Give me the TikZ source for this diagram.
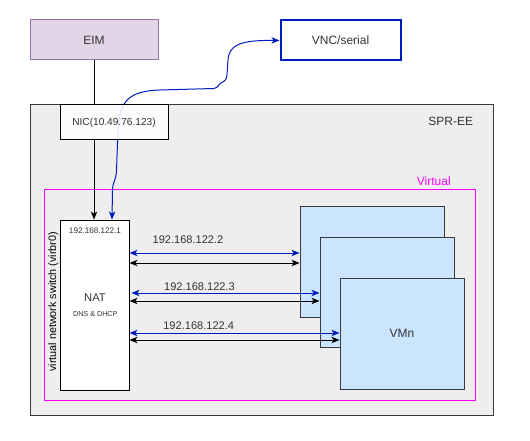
\documentclass[tikz,border=0pt]{standalone}
\usepackage{fontspec}
\setmainfont{Liberation Sans}
\usetikzlibrary{arrows.meta}
\definecolor{txt}{HTML}{333333}
\definecolor{eimfill}{HTML}{E1D5E7}
\definecolor{eimdraw}{HTML}{9673A6}
\definecolor{vncblue}{HTML}{001DBC}
\definecolor{hostfill}{HTML}{EEEEEE}
\definecolor{hostdraw}{HTML}{36393D}
\definecolor{vmfill}{HTML}{CCE5FF}
\definecolor{magen}{HTML}{FF00FF}
\begin{document}
\begin{tikzpicture}[x=0.75pt,y=-0.75pt,
  box/.style={draw, inner sep=0pt, line width=0.75pt, text=txt, font=\fontsize{9}{11}\selectfont},
  lbl/.style={inner sep=0pt, text=txt},
  tip/.tip={Stealth[length=6pt,width=4.8pt,inset=1.6pt]},
  barrow/.style={line width=0.75pt, draw=vncblue, tip-tip},
  karrow/.style={line width=0.75pt, draw=black, tip-tip},
  vmbox/.style={box, fill=vmfill, draw=hostdraw}
]
\useasboundingbox (0,0) rectangle (530,441);

% host
\node[box, fill=hostfill, draw=hostdraw, minimum width=347.25pt, minimum height=232.5pt] (host) at (261.5,260) {};
\node[lbl, font=\fontsize{9}{11}\selectfont] (hostlbl) at (450.7,121) {SPR-EE};

% virtual area
\node[draw=magen, line width=0.75pt, inner sep=0pt, minimum width=323.25pt, minimum height=157.5pt] (virt) at (259.5,295) {};
\node[lbl, text=magen, font=\fontsize{9}{11}\selectfont] (virtlbl) at (433.8,181) {Virtual};

% top boxes
\node[box, fill=eimfill, draw=eimdraw, minimum width=96pt, minimum height=30pt] (EIM) at (94,40) {EIM};
\node[box, fill=white, draw=vncblue, line width=1.5pt, minimum width=90pt, minimum height=30pt] (VNC) at (340.5,40.5) {VNC/serial};

% NAT
\node[box, fill=white, draw=black, minimum width=51.75pt, minimum height=127.5pt] (NAT) at (94.5,305) {};
\node[lbl, font=\fontsize{6.1}{7}\selectfont] (natip) at (95,231) {192.168.122.1};
\node[lbl, font=\fontsize{8.4}{10}\selectfont] (natlbl) at (95,297.7) {NAT};
\node[lbl, font=\fontsize{5.4}{6}\selectfont] (dnslbl) at (95.3,314.3) {DNS \& DHCP};
\node[lbl, rotate=90, text=black, font=\fontsize{8.1}{10}\selectfont] (swlbl) at (53.3,301.7) {virtual network switch (virbr0)};

% VMs
\node[vmbox, minimum width=108pt, minimum height=82.5pt] (VM1) at (372,262) {};
\node[vmbox, minimum width=100.5pt, minimum height=82.5pt] (VM2) at (387,292) {};
\node[vmbox, minimum width=93pt, minimum height=83.25pt] (VM3) at (402,333.5) {VMn};

% EIM to NAT (hidden behind NIC)
\draw[line width=0.75pt] (EIM.south) -- (EIM.south |- 0,105);
\draw[line width=0.75pt, -{tip}] (EIM.south |- 0,140) -- (EIM.south |- NAT.north);

% blue curve NAT <-> VNC
\draw[barrow] (112,0 |- NAT.north) -- (112.5,190)
  .. controls (113,180) and (116,182) .. (116.5,170)
  -- (118,130)
  .. controls (119,100) and (130,91) .. (160,90)
  -- (214,88.5)
  .. controls (219,88) and (219,82) .. (223,82)
  .. controls (228,81) and (227,70) .. (228,60)
  .. controls (229,45) and (240,40) .. (VNC.west);

% NIC
\node[box, fill=white, fill opacity=0.85, text opacity=1, draw=black, minimum width=81pt, minimum height=26.25pt, font=\fontsize{7.6}{9}\selectfont] (NIC) at (114,122.5) {NIC(10.49.76.123)};

% links
\draw[barrow] (NAT.east |- 0,253) -- (VM1.west |- 0,253);
\draw[karrow] (NAT.east |- 0,263) -- (VM1.west |- 0,263);
\node[lbl, font=\fontsize{8.3}{10}\selectfont] (ip2) at (188,240) {192.168.122.2};

\draw[barrow] (131.5,293) -- (VM2.west |- 0,293);
\draw[karrow] (NAT.east |- 0,301) -- (VM2.west |- 0,301);
\node[lbl, font=\fontsize{8.3}{10}\selectfont] (ip3) at (199.5,286.7) {192.168.122.3};

\draw[barrow] (NAT.east |- 0,333) -- (VM3.west |- 0,333);
\draw[karrow] (NAT.east |- 0,340) -- (VM3.west |- 0,340);
\node[lbl, font=\fontsize{8.3}{10}\selectfont] (ip4) at (198.7,326) {192.168.122.4};
\end{tikzpicture}
\end{document}
